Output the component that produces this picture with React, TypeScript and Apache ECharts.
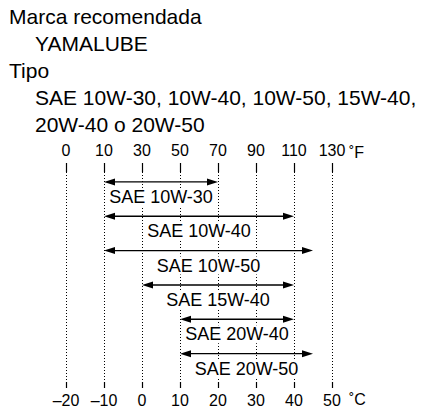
import React, { useEffect, useRef } from "react";
import * as echarts from "echarts";

const headerLines = [
  { text: "Marca recomendada", indent: false },
  { text: "YAMALUBE", indent: true },
  { text: "Tipo", indent: false },
  { text: "SAE 10W-30, 10W-40, 10W-50, 15W-40,", indent: true },
  { text: "20W-40 o 20W-50", indent: true },
];

const celsiusTicks = [-20, -10, 0, 10, 20, 30, 40, 50];
const fahrenheitLabels = ["0", "10", "30", "50", "70", "90", "110", "130"];
const unitTop = "˚F";
const unitBottom = "˚C";

const grades = ["SAE 10W-30", "SAE 10W-40", "SAE 10W-50", "SAE 15W-40", "SAE 20W-40", "SAE 20W-50"];
const minC = [-10, -10, -10, 0, 10, 10];
const maxC = [20, 40, 45, 40, 40, 45];

const FONT = "'Liberation Sans', Arial, Helvetica, sans-serif";
const INK = "#000";

export default function App() {
  const ref = useRef<HTMLDivElement>(null);

  useEffect(() => {
    document.body.style.margin = "0";
    const chart = echarts.init(ref.current!, null, { renderer: "svg" });

    const rows = grades.map((g, i) => [minC[i], maxC[i], i, g]);
    const tickRows = celsiusTicks.map((c) => [c, 0]);

    const option: any = {
      animation: false,
      backgroundColor: "#fff",
      textStyle: { fontFamily: FONT, color: INK },
      grid: { left: 66, right: 104, top: 163, bottom: 21 },
      xAxis: [
        {
          type: "value",
          position: "bottom",
          min: -20,
          max: 50,
          interval: 10,
          axisLine: { show: false },
          axisTick: { show: false },
          axisLabel: {
            margin: 4,
            fontSize: 16,
            color: INK,
            fontFamily: FONT,
            formatter: (v: number) => String(v).replace("-", "–"),
          },
          splitLine: { show: true, lineStyle: { color: INK, width: 1, type: [1, 2] } },
        },
        {
          type: "value",
          position: "top",
          min: -20,
          max: 50,
          interval: 10,
          axisLine: { show: false },
          axisTick: { show: false },
          axisLabel: {
            margin: 5,
            fontSize: 16,
            color: INK,
            fontFamily: FONT,
            formatter: (v: number) => {
              const idx = celsiusTicks.indexOf(v);
              return idx >= 0 ? fahrenheitLabels[idx] : "";
            },
          },
          splitLine: { show: false },
        },
      ],
      yAxis: {
        type: "value",
        min: -0.55,
        max: 6,
        inverse: true,
        show: false,
      },
      graphic: [
        ...headerLines.map((h, i) => ({
          type: "text",
          left: h.indent ? 35 : 9,
          top: 6 + i * 27,
          style: { text: h.text, font: `21px ${FONT}`, fill: INK },
        })),
        {
          type: "text",
          x: 349,
          y: 152,
          style: { text: unitTop, font: `16px ${FONT}`, fill: INK, verticalAlign: "middle" },
        },
        {
          type: "text",
          x: 349,
          y: 399,
          style: { text: unitBottom, font: `16px ${FONT}`, fill: INK, verticalAlign: "middle" },
        },
      ],
      series: [
        {
          type: "custom",
          xAxisIndex: 0,
          clip: false,
          silent: true,
          data: tickRows,
          encode: { x: 0, y: 1 },
          renderItem: (params: any, api: any) => {
            const p = api.coord([api.value(0), 0]);
            const cs = params.coordSys;
            const x = Math.round(p[0]) + 0.5;
            const top = cs.y;
            const bottom = cs.y + cs.height;
            return {
              type: "group",
              children: [
                {
                  type: "line",
                  shape: { x1: x, y1: top, x2: x, y2: top + 9 },
                  style: { stroke: INK, lineWidth: 1.2 },
                },
                {
                  type: "line",
                  shape: { x1: x, y1: bottom - 6, x2: x, y2: bottom },
                  style: { stroke: INK, lineWidth: 1.2 },
                },
              ],
            };
          },
        },
        {
          type: "custom",
          xAxisIndex: 0,
          clip: false,
          data: rows,
          encode: { x: [0, 1], y: 2 },
          renderItem: (params: any, api: any) => {
            const s = api.coord([api.value(0), api.value(2)]);
            const e = api.coord([api.value(1), api.value(2)]);
            const y = s[1];
            const L = 11;
            const W = 3.5;
            const label = grades[params.dataIndex];
            return {
              type: "group",
              children: [
                {
                  type: "line",
                  shape: { x1: s[0] + L - 1, y1: y, x2: e[0] - L + 1, y2: y },
                  style: { stroke: INK, lineWidth: 1.4 },
                },
                {
                  type: "polygon",
                  shape: { points: [[s[0], y], [s[0] + L, y - W], [s[0] + L, y + W]] },
                  style: { fill: INK },
                },
                {
                  type: "polygon",
                  shape: { points: [[e[0], y], [e[0] - L, y - W], [e[0] - L, y + W]] },
                  style: { fill: INK },
                },
                {
                  type: "text",
                  x: (s[0] + e[0]) / 2,
                  y: y + 15,
                  style: {
                    text: label,
                    font: `18px ${FONT}`,
                    fill: INK,
                    align: "center",
                    verticalAlign: "middle",
                    backgroundColor: "#fff",
                    padding: [0, 1],
                  },
                },
              ],
            };
          },
        },
      ],
    };

    chart.setOption(option);
    return () => chart.dispose();
  }, []);

  return <div ref={ref} style={{ width: 436, height: 409 }} />;
}
